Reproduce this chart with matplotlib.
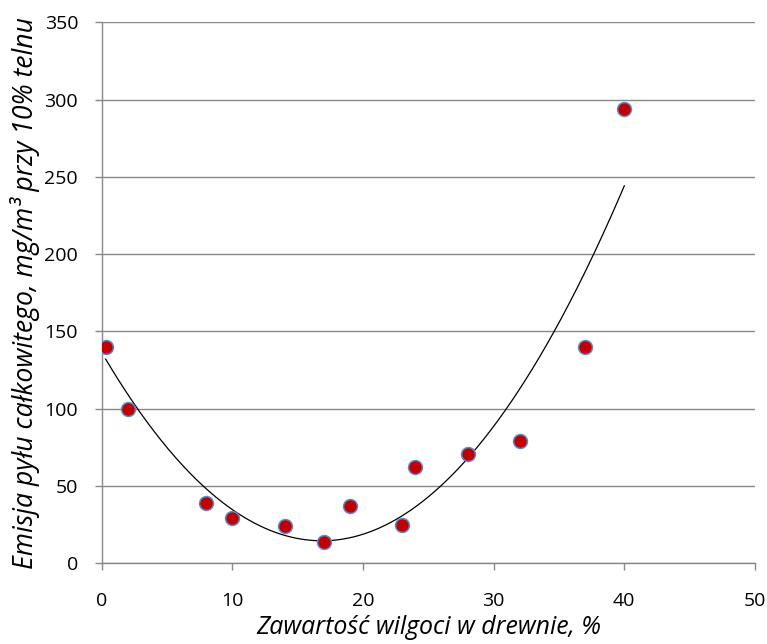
import matplotlib
matplotlib.use("Agg")
import matplotlib.pyplot as plt
import numpy as np

plt.rcParams["font.family"] = ["Open Sans", "DejaVu Sans"]

# --- dane ---
wilgoc = [0.3, 2, 8, 10, 14, 17, 19, 23, 24, 28, 32, 37, 40]
emisja = [140, 100, 39, 29, 24, 14, 37, 25, 62, 71, 79, 140, 294]

x_ticks = [0, 10, 20, 30, 40, 50]
y_ticks = [0, 50, 100, 150, 200, 250, 300, 350]

GRID = "#888888"

fig = plt.figure(figsize=(7.67, 6.44), dpi=100)
ax = fig.add_axes([0.1326, 0.1253, 0.8517, 0.8402])

# linia trendu (wielomian 2. stopnia, jak w Excelu)
coef = np.polyfit(wilgoc, emisja, 2)
xs = np.linspace(min(wilgoc), max(wilgoc), 300)
ax.plot(xs, np.polyval(coef, xs), color="black", linewidth=0.9, zorder=2)

ax.scatter(wilgoc, emisja, s=100, color="#C00000", edgecolors="#5B8BC9",
           linewidths=1.1, zorder=3)

ax.set_xlim(0, 50)
ax.set_ylim(0, 350)
ax.set_xticks(x_ticks)
ax.set_yticks(y_ticks)
ax.yaxis.grid(True, color=GRID, linewidth=1.0)
ax.set_axisbelow(True)

for s in ["top", "right"]:
    ax.spines[s].set_visible(False)
for s in ["left", "bottom"]:
    ax.spines[s].set_color(GRID)
    ax.spines[s].set_linewidth(1.0)

ax.tick_params(axis="both", direction="out", color=GRID, length=5, width=1.0,
               labelsize=14)
ax.tick_params(axis="x", pad=16)
ax.tick_params(axis="y", pad=12)

ax.set_xlabel("Zawartość wilgoci w drewnie, %", fontsize=17.9, style="italic",
              labelpad=3)
ax.set_ylabel("Emisja pyłu całkowitego, mg/m³ przy 10% telnu", fontsize=19.2,
              style="italic", labelpad=3)

fig.savefig("out.png", dpi=100)
